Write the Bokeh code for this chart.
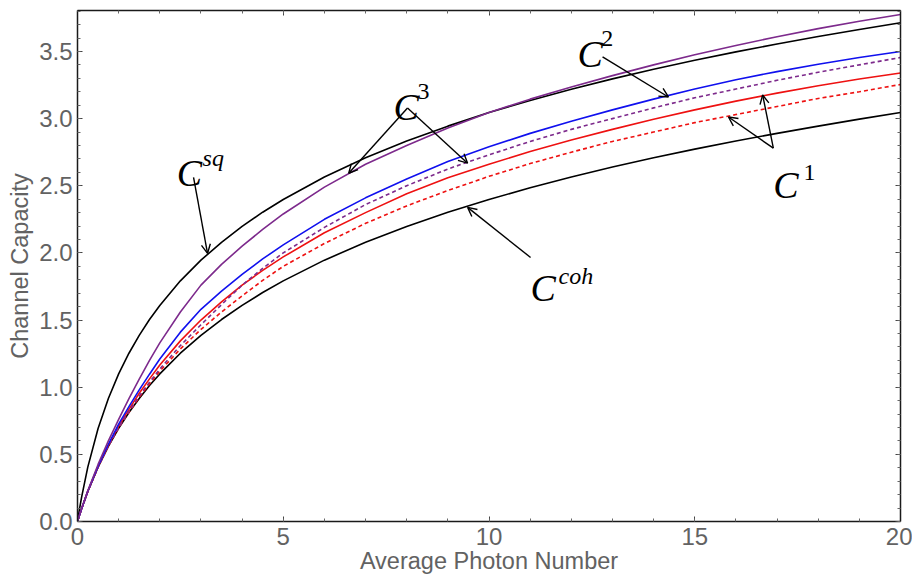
from bokeh.plotting import figure
from bokeh.models import Range1d, LinearAxis, FixedTicker, Arrow, OpenHead, ColumnDataSource
from bokeh.core.properties import value
from bokeh.embed import file_html
from bokeh.resources import INLINE

# ---- data ----
N = [0, 0.05, 0.1, 0.25, 0.5, 0.75, 1, 1.25, 1.5, 1.75, 2, 2.5, 3, 3.5, 4, 4.5, 5, 6, 7, 8, 9, 10,
     11, 12, 13, 14, 15, 16, 17, 18, 19, 20]

C_sq = [0, 0.095, 0.182, 0.405, 0.693, 0.916, 1.099, 1.253, 1.386, 1.504, 1.609, 1.792, 1.946, 2.079, 2.197,
        2.303, 2.398, 2.565, 2.708, 2.833, 2.944, 3.045, 3.135, 3.219, 3.296, 3.367, 3.434, 3.497, 3.555,
        3.611, 3.664, 3.714]
C_coh = [0, 0.049, 0.095, 0.223, 0.405, 0.560, 0.693, 0.811, 0.916, 1.012, 1.099, 1.253, 1.386, 1.504, 1.609,
         1.705, 1.792, 1.946, 2.079, 2.197, 2.303, 2.398, 2.485, 2.565, 2.639, 2.708, 2.773, 2.833, 2.890,
         2.944, 2.996, 3.045]
C3_solid = [0, 0.049, 0.096, 0.228, 0.425, 0.60, 0.76, 0.915, 1.06, 1.20, 1.33, 1.56, 1.76, 1.915, 2.05,
            2.175, 2.29, 2.49, 2.66, 2.80, 2.93, 3.045, 3.145, 3.235, 3.32, 3.40, 3.475, 3.545, 3.61,
            3.67, 3.725, 3.775]
C3_dashed = [0, 0.049, 0.095, 0.223, 0.407, 0.563, 0.70, 0.82, 0.935, 1.037, 1.135, 1.31, 1.465, 1.615, 1.76,
             1.885, 2.00, 2.19, 2.36, 2.50, 2.625, 2.73, 2.83, 2.92, 3.00, 3.08, 3.155, 3.22, 3.285,
             3.345, 3.40, 3.455]
C2_solid = [0, 0.049, 0.095, 0.225, 0.412, 0.575, 0.725, 0.855, 0.98, 1.097, 1.21, 1.41, 1.58, 1.715, 1.84,
            1.955, 2.06, 2.25, 2.41, 2.55, 2.68, 2.79, 2.89, 2.98, 3.065, 3.145, 3.22, 3.29, 3.35,
            3.405, 3.455, 3.50]
C1_solid = [0, 0.049, 0.095, 0.223, 0.408, 0.567, 0.71, 0.835, 0.955, 1.062, 1.165, 1.345, 1.50, 1.635, 1.76,
            1.87, 1.97, 2.15, 2.30, 2.44, 2.56, 2.66, 2.755, 2.84, 2.92, 2.995, 3.065, 3.13, 3.19,
            3.245, 3.295, 3.34]
C1_dashed = [0, 0.049, 0.095, 0.223, 0.406, 0.562, 0.698, 0.814, 0.925, 1.025, 1.12, 1.285, 1.43, 1.56, 1.68,
             1.795, 1.90, 2.07, 2.22, 2.35, 2.465, 2.57, 2.665, 2.75, 2.83, 2.90, 2.97, 3.03, 3.09,
             3.15, 3.20, 3.254]

x_ticks = [0, 5, 10, 15, 20]
y_ticks = [0.0, 0.5, 1.0, 1.5, 2.0, 2.5, 3.0, 3.5]
y_tick_labels = ["0.0", "0.5", "1.0", "1.5", "2.0", "2.5", "3.0", "3.5"]

# annotation labels  (C with superscript)
lab_x = [2.41, 7.68, 12.15, 16.91, 11.01]
lab_y = [2.593, 3.087, 3.48, 2.504, 1.741]
sup_text = ["sq", "3", "2", "1", "coh"]
sup_style = ["italic", "normal", "normal", "normal", "italic"]
sup_x = [3.04, 8.26, 12.73, 17.64, 11.69]
sup_y = [2.705, 3.20, 3.60, 2.601, 1.831]

# annotation arrows
arr_x0 = [2.82, 8.02, 8.02, 12.76, 16.91, 16.91, 11.01]
arr_y0 = [2.563, 3.079, 3.079, 3.460, 2.780, 2.780, 1.966]
arr_x1 = [3.16, 6.59, 9.48, 14.36, 15.82, 16.65, 9.48]
arr_y1 = [1.996, 2.593, 2.668, 3.161, 3.012, 3.176, 2.339]

# ---- figure ----
p = figure(width=912, height=583, x_range=Range1d(0, 20), y_range=Range1d(0, 3.805),
           output_backend="svg", toolbar_location=None,
           min_border_left=77, min_border_right=12, min_border_top=10, min_border_bottom=62,
           background_fill_color="white", border_fill_color="white")
p.grid.visible = False
p.outline_line_color = None

GRAY = "#626262"
FRAME = "#1a1a1a"

def style_axis(ax, labels=True):
    ax.axis_line_color = FRAME
    ax.axis_line_width = 1.5
    ax.major_tick_in = 5
    ax.major_tick_out = 0
    ax.minor_tick_in = 3
    ax.minor_tick_out = 0
    ax.major_tick_line_color = "#444444"
    ax.minor_tick_line_color = "#666666"
    ax.major_tick_line_width = 1
    ax.minor_tick_line_width = 1
    if labels:
        ax.major_label_text_font = "Liberation Sans"
        ax.major_label_text_font_size = "24px"
        ax.major_label_text_color = GRAY
        ax.axis_label_text_font = "Liberation Sans"
        ax.axis_label_text_font_size = "23.5px"
        ax.axis_label_text_font_style = "normal"
        ax.axis_label_text_color = GRAY
    else:
        ax.major_label_text_color = None
        ax.major_label_text_font_size = "1px"
        ax.major_label_standoff = 0

xa = p.xaxis[0]
xa.ticker = FixedTicker(ticks=x_ticks, minor_ticks=list(range(21)))
xa.axis_label = "Average Photon Number"
style_axis(xa)
xa.major_label_standoff = 6
xa.axis_label_standoff = 0

ya = p.yaxis[0]
ya.ticker = FixedTicker(ticks=y_ticks, minor_ticks=[i / 10 for i in range(39)])
ya.major_label_overrides = {t: l for t, l in zip(y_ticks, y_tick_labels)}
ya.axis_label = "Channel Capacity"
style_axis(ya)
ya.major_label_standoff = 5
ya.axis_label_standoff = 3

top = LinearAxis(ticker=FixedTicker(ticks=x_ticks, minor_ticks=list(range(21))))
style_axis(top, labels=False)
p.add_layout(top, "above")
right = LinearAxis(ticker=FixedTicker(ticks=y_ticks, minor_ticks=[i / 10 for i in range(39)]))
style_axis(right, labels=False)
p.add_layout(right, "right")

# ---- curves ----
LW = 1.6
RED = "#ee1111"
PURPLE = "#7d2a8c"
BLUE = "#1010ee"
p.line(N, C_coh, line_color="black", line_width=LW)
p.line(N, C_sq, line_color="black", line_width=LW)
p.line(N, C1_dashed, line_color=RED, line_width=LW, line_dash="4 3")
p.line(N, C1_solid, line_color=RED, line_width=LW)
p.line(N, C3_dashed, line_color=PURPLE, line_width=LW, line_dash="4 3")
p.line(N, C2_solid, line_color=BLUE, line_width=LW)
p.line(N, C3_solid, line_color=PURPLE, line_width=LW)

# ---- annotations ----
p.text(x=lab_x, y=lab_y, text=["C"] * len(lab_x), text_font=value("Liberation Serif"),
       text_font_style="italic", text_font_size="38px", text_align="left",
       text_baseline="alphabetic", text_color="black")
sup_src = ColumnDataSource(dict(x=sup_x, y=sup_y, t=sup_text, s=sup_style))
p.text(x="x", y="y", text="t", source=sup_src, text_font=value("Liberation Serif"),
       text_font_style="s", text_font_size="24px", text_align="left",
       text_baseline="alphabetic", text_color="black")

arr_src = ColumnDataSource(dict(x0=arr_x0, y0=arr_y0, x1=arr_x1, y1=arr_y1))
p.add_layout(Arrow(end=OpenHead(size=9, line_width=1.4, line_color="black"),
                   x_start="x0", y_start="y0", x_end="x1", y_end="y1",
                   source=arr_src, line_width=1.4, line_color="black"))

open("out.html", "w").write(file_html(p, INLINE))
